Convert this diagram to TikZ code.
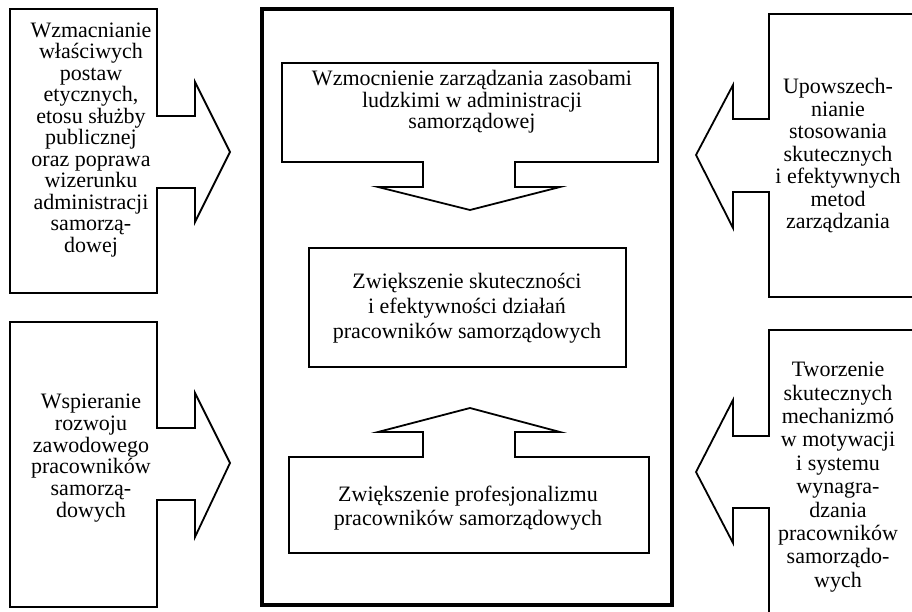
\documentclass[tikz,border=0pt]{standalone}
\usepackage{fontspec}
\setmainfont{Liberation Serif}
\begin{document}
\begin{tikzpicture}[x=1pt,y=-1pt,
  blk/.style={draw=black,line width=1.8pt,line join=miter,fill=white},
  frm/.style={draw=black,line width=3.2pt},
  txt/.style={align=center,inner sep=0pt,font=\fontsize{22}{#1}\selectfont},
  txt/.default=22]
\path[use as bounding box,fill=white] (0,0) rectangle (912,612);
\clip (0,0) rectangle (912,612);
% central frame
\draw[frm] (262,9) rectangle (672,605);
% top inner box with down arrow
\draw[blk] (282,63) -- (658,63) -- (658,162) -- (515,162) -- (515,187) -- (560,187)
  -- (470,210) -- (378,187) -- (423,187) -- (423,162) -- (282,162) -- cycle;
% middle box
\draw[blk] (309,248) rectangle (626,367);
% bottom box with up arrow
\draw[blk] (289,457) -- (423,457) -- (423,432) -- (378,432) -- (470,408) -- (560,432)
  -- (515,432) -- (515,457) -- (649,457) -- (649,553) -- (289,553) -- cycle;
% left boxes with arrows
\draw[blk] (10,9) -- (157,9) -- (157,116) -- (195,116) -- (195,82) -- (230,152)
  -- (195,222) -- (195,188) -- (157,188) -- (157,293) -- (10,293) -- cycle;
\draw[blk] (10,322) -- (157,322) -- (157,428) -- (195,428) -- (195,393) -- (230,463)
  -- (195,537) -- (195,500) -- (157,500) -- (157,607) -- (10,607) -- cycle;
% right boxes with arrows
\draw[blk] (930,14) -- (769,14) -- (769,119) -- (733,119) -- (733,85) -- (696,155)
  -- (733,228) -- (733,192) -- (769,192) -- (769,297) -- (930,297) -- cycle;
\draw[blk] (930,330) -- (769,330) -- (769,436) -- (733,436) -- (733,400) -- (696,472)
  -- (733,543) -- (733,508) -- (769,508) -- (769,640) -- (930,640) -- cycle;
% texts
\node[txt=21.5] (lt) at (91,140) {Wzmacnianie\\właściwych\\postaw\\etycznych,\\etosu służby\\publicznej\\oraz poprawa\\wizerunku\\administracji\\samorzą-\\dowej};
\node[txt=21.7] (lb) at (91,458) {Wspieranie\\rozwoju\\zawodowego\\pracowników\\samorzą-\\dowych};
\node[txt=22.5] (rt) at (838,156) {Upowszech-\\nianie\\stosowania\\skutecznych\\i efektywnych\\metod\\zarządzania};
\node[txt=23.4] (rb) at (838,477) {Tworzenie\\skutecznych\\mechanizmó\\w motywacji\\i systemu\\wynagra-\\dzania\\pracowników\\samorządo-\\wych};
\node[txt=21.7] (c1) at (472,102) {Wzmocnienie zarządzania zasobami\\ludzkimi w administracji\\samorządowej};
\node[txt=25] (c2) at (467,308) {Zwiększenie skuteczności\\i efektywności działań\\pracowników samorządowych};
\node[txt=23.3] (c3) at (468,508) {Zwiększenie profesjonalizmu\\pracowników samorządowych};
\end{tikzpicture}
\end{document}
